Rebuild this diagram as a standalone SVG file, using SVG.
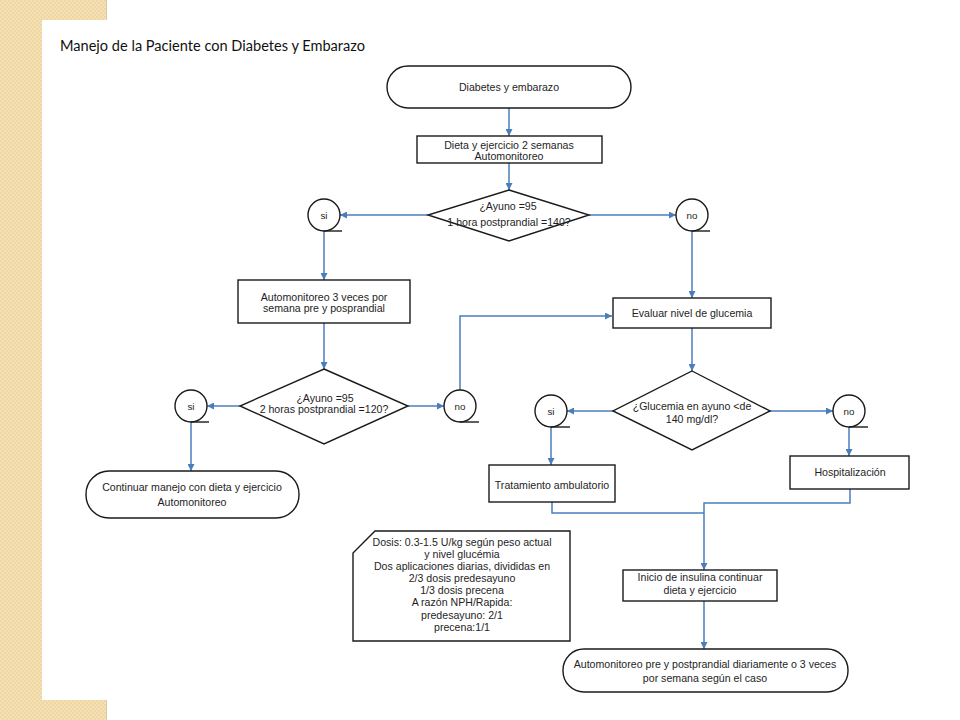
<svg xmlns="http://www.w3.org/2000/svg" width="960" height="720" viewBox="0 0 960 720">
<defs>
<pattern id="tan" width="4" height="4" patternUnits="userSpaceOnUse">
<rect width="4" height="4" fill="#f4e0b4"/>
<rect width="2" height="2" fill="#efd7a3"/>
<rect x="2" y="2" width="2" height="2" fill="#efd7a3"/>
</pattern>
<marker id="arr" viewBox="0 0 10 10" refX="10" refY="5" markerWidth="7" markerHeight="7" markerUnits="userSpaceOnUse" orient="auto">
<path d="M0,0 L10,5 L0,10 z" fill="#4a7ebb"/>
</marker>
</defs>
<style>
.shape{fill:#ffffff;stroke:#1a1a1a;stroke-width:1.4}
.tail{fill:none;stroke:#1a1a1a;stroke-width:1.4}
.conn{fill:none;stroke:#4a7ebb;stroke-width:1.5}
.t{font-family:"Liberation Sans",Arial,sans-serif;font-size:10.6px;fill:#1e1e1e;text-anchor:middle}
.c{font-family:"Liberation Sans",Arial,sans-serif;font-size:9.8px;fill:#1e1e1e;text-anchor:middle}
.title{font-family:Lato,"Open Sans",sans-serif;font-size:14.5px;fill:#111}
</style>
<rect width="960" height="720" fill="#ffffff"/>
<rect x="0" y="0" width="106" height="720" fill="url(#tan)"/>
<line x1="106.5" y1="0" x2="106.5" y2="720" stroke="#dccba3" stroke-width="1"/>
<rect x="42" y="20" width="918" height="680" fill="#ffffff"/>
<text class="title" x="60" y="51" textLength="305" lengthAdjust="spacingAndGlyphs">Manejo de la Paciente con Diabetes y Embarazo</text>

<g id="connectors">
<path class="conn" d="M509,108 V136" marker-end="url(#arr)"/>
<path class="conn" d="M509,163 V190" marker-end="url(#arr)"/>
<path class="conn" d="M428,215 H340" marker-end="url(#arr)"/>
<path class="conn" d="M589,215 H676" marker-end="url(#arr)"/>
<path class="conn" d="M324,231 V280" marker-end="url(#arr)"/>
<path class="conn" d="M692,231 V298" marker-end="url(#arr)"/>
<path class="conn" d="M324,323 V369" marker-end="url(#arr)"/>
<path class="conn" d="M240,406 H207" marker-end="url(#arr)"/>
<path class="conn" d="M408,406 H444" marker-end="url(#arr)"/>
<path class="conn" d="M460,390 V316 H612" marker-end="url(#arr)"/>
<path class="conn" d="M191,422 V471" marker-end="url(#arr)"/>
<path class="conn" d="M692,328 V371" marker-end="url(#arr)"/>
<path class="conn" d="M613,411 H567" marker-end="url(#arr)"/>
<path class="conn" d="M770,411 H833" marker-end="url(#arr)"/>
<path class="conn" d="M551,427 V465" marker-end="url(#arr)"/>
<path class="conn" d="M849,427 V456" marker-end="url(#arr)"/>
<path class="conn" d="M552,502 V513 H704"/>
<path class="conn" d="M850,489 V503 H704 V570" marker-end="url(#arr)"/>
<path class="conn" d="M704,600 V649" marker-end="url(#arr)"/>
</g>

<g id="inicio">
<rect class="shape" x="387" y="66" width="244" height="42" rx="21"/>
<text class="t" x="509" y="90.5">Diabetes y embarazo</text>
</g>
<g id="dieta">
<rect class="shape" x="417" y="136" width="185" height="27"/>
<text class="t" x="509" y="148.5">Dieta y ejercicio 2 semanas</text>
<text class="t" x="509" y="160">Automonitoreo</text>
</g>
<g id="decision1">
<polygon class="shape" points="509,190 589,215 509,241 428,215"/>
<text class="t" x="508" y="209.5">¿Ayuno =95</text>
<text class="t" x="509" y="225.5">1 hora postprandial =140?</text>
</g>
<g id="si1">
<circle class="shape" cx="324" cy="215" r="16"/>
<line class="tail" x1="324" y1="231" x2="342" y2="231"/>
<text class="c" x="324" y="218.5">si</text>
</g>
<g id="no1">
<circle class="shape" cx="692" cy="215" r="16"/>
<line class="tail" x1="692" y1="231" x2="710" y2="231"/>
<text class="c" x="692" y="218.5">no</text>
</g>
<g id="automonitoreo3">
<rect class="shape" x="238" y="280" width="172" height="43"/>
<text class="t" x="324" y="300.5">Automonitoreo 3 veces por</text>
<text class="t" x="324" y="312">semana pre y posprandial</text>
</g>
<g id="decision2">
<polygon class="shape" points="324,369 408,406 324,444 240,406"/>
<text class="t" x="325" y="401.5">¿Ayuno =95</text>
<text class="t" x="324" y="413">2 horas postprandial =120?</text>
</g>
<g id="si2">
<circle class="shape" cx="191" cy="406" r="16"/>
<line class="tail" x1="191" y1="422" x2="209" y2="422"/>
<text class="c" x="191" y="409.5">si</text>
</g>
<g id="no2">
<circle class="shape" cx="460" cy="406" r="16"/>
<line class="tail" x1="460" y1="422" x2="479" y2="422"/>
<text class="c" x="460" y="409.5">no</text>
</g>
<g id="continuar">
<rect class="shape" x="86" y="471" width="213" height="47" rx="23"/>
<text class="t" x="192" y="491">Continuar manejo con dieta y ejercicio</text>
<text class="t" x="192" y="505.5">Automonitoreo</text>
</g>
<g id="evaluar">
<rect class="shape" x="613" y="298" width="158" height="30"/>
<text class="t" x="692" y="316.5">Evaluar nivel de glucemia</text>
</g>
<g id="decision3">
<polygon class="shape" points="692,371 770,411 692,450 613,411"/>
<text class="t" x="692" y="410">¿Glucemia en ayuno &lt;de</text>
<text class="t" x="692" y="422.5">140 mg/dl?</text>
</g>
<g id="si3">
<circle class="shape" cx="551" cy="411" r="16"/>
<line class="tail" x1="551" y1="427" x2="570" y2="427"/>
<text class="c" x="551" y="414.5">si</text>
</g>
<g id="no3">
<circle class="shape" cx="849" cy="411" r="16"/>
<line class="tail" x1="849" y1="427" x2="868" y2="427"/>
<text class="c" x="849" y="414.5">no</text>
</g>
<g id="tratamiento">
<rect class="shape" x="489" y="465" width="126" height="37"/>
<text class="t" x="552" y="488.5">Tratamiento ambulatorio</text>
</g>
<g id="hospitalizacion">
<rect class="shape" x="790" y="456" width="119" height="33"/>
<text class="t" x="850" y="476">Hospitalización</text>
</g>
<g id="nota">
<polygon class="shape" points="375,531 570,531 570,641 353,641 353,553"/>
<text class="t" x="462" y="545.5">Dosis: 0.3-1.5 U/kg según peso actual</text>
<text class="t" x="462" y="557.5">y  nivel glucémia</text>
<text class="t" x="462" y="569.5">Dos aplicaciones diarias, divididas en</text>
<text class="t" x="462" y="582">2/3 dosis predesayuno</text>
<text class="t" x="462" y="594">1/3 dosis precena</text>
<text class="t" x="462" y="606">A razón NPH/Rapida:</text>
<text class="t" x="462" y="618.5">predesayuno: 2/1</text>
<text class="t" x="462" y="631">precena:1/1</text>
</g>
<g id="insulina">
<rect class="shape" x="623" y="570" width="154" height="31"/>
<text class="t" x="700" y="581">Inicio de insulina continuar</text>
<text class="t" x="700" y="594">dieta y ejercicio</text>
</g>
<g id="automonitoreo-final">
<rect class="shape" x="563" y="649" width="285" height="43" rx="21"/>
<text class="t" x="705" y="667.5">Automonitoreo pre y postprandial diariamente o 3 veces</text>
<text class="t" x="705" y="681.5">por semana según el caso</text>
</g>
</svg>
